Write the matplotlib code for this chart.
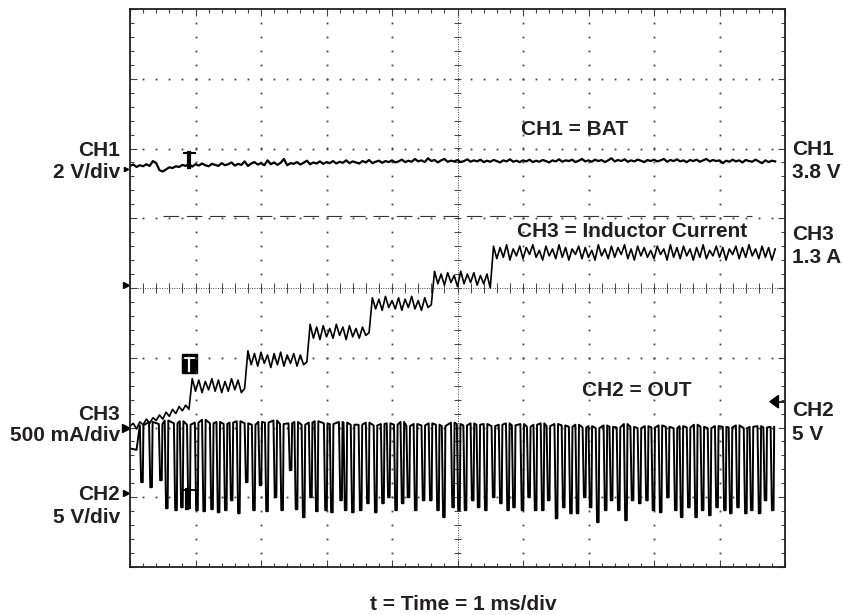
"""
Scope capture: battery, output and inductor current at boost start-up.
"""

import numpy as np
import matplotlib
matplotlib.use("Agg")
import matplotlib.pyplot as plt
from matplotlib.patches import Rectangle, Polygon

W, H = 843, 615
INK = "#231f20"

# channel settings: units per division and ground position (divisions from centre)
ch1_scale, ch1_ground = 2.0, 0.0    # V/div
ch2_scale, ch2_ground = 5.0, -3.0   # V/div
ch3_scale, ch3_ground = 0.5, -2.0   # A/div
dt = 0.05                           # ms between record samples

# CH1 = BAT (V), one sample every dt
ch1_bat = [
    3.50, 3.54, 3.47, 3.52, 3.49, 3.55, 3.50, 3.64, 3.58, 3.38,
    3.34, 3.40, 3.46, 3.44, 3.49, 3.47, 3.53, 3.50, 3.56, 3.48,
    3.55, 3.51, 3.57, 3.52, 3.49, 3.56, 3.53, 3.50, 3.58, 3.52,
    3.55, 3.60, 3.51, 3.56, 3.53, 3.63, 3.50, 3.57, 3.61, 3.54,
    3.58, 3.52, 3.66, 3.55, 3.60, 3.53, 3.59, 3.70, 3.52, 3.58,
    3.56, 3.61, 3.54, 3.59, 3.65, 3.55, 3.60, 3.57, 3.63, 3.56,
    3.61, 3.58, 3.64, 3.57, 3.62, 3.59, 3.66, 3.58, 3.63, 3.60,
    3.57, 3.64, 3.60, 3.67, 3.58, 3.62, 3.65, 3.59, 3.64, 3.61,
    3.66, 3.60, 3.63, 3.68, 3.61, 3.65, 3.62, 3.70, 3.63, 3.66,
    3.61, 3.72, 3.64, 3.67, 3.60, 3.66, 3.70, 3.62, 3.65, 3.63,
    3.67, 3.61, 3.64, 3.69, 3.62, 3.66, 3.63, 3.68, 3.61, 3.65,
    3.62, 3.67, 3.64, 3.60, 3.66, 3.63, 3.69, 3.62, 3.65, 3.61,
    3.66, 3.63, 3.68, 3.61, 3.65, 3.62, 3.67, 3.64, 3.60, 3.66,
    3.63, 3.69, 3.62, 3.66, 3.64, 3.68, 3.61, 3.65, 3.70, 3.63,
    3.66, 3.62, 3.68, 3.64, 3.67, 3.61, 3.66, 3.72, 3.63, 3.67,
    3.64, 3.69, 3.62, 3.66, 3.63, 3.68, 3.65, 3.61, 3.67, 3.64,
    3.68, 3.63, 3.66, 3.70, 3.62, 3.67, 3.64, 3.69, 3.63, 3.66,
    3.61, 3.67, 3.64, 3.68, 3.62, 3.66, 3.70, 3.63, 3.67, 3.64,
    3.66, 3.58, 3.65, 3.62, 3.68, 3.63, 3.66, 3.60, 3.67, 3.64,
    3.62, 3.68, 3.63, 3.58, 3.66, 3.61, 3.65, 3.63,
]

# CH3 = inductor current (A), one sample every dt
ch3_il = [
    # before the first step
    0.01, 0.03, -0.01, 0.04, 0.02, 0.06, 0.03, 0.07, 0.05, 0.09,
    0.06, 0.11, 0.08, 0.13, 0.10, 0.15, 0.12, 0.16, 0.13,
    # step 1
    0.35, 0.26, 0.34, 0.25, 0.33, 0.27, 0.35, 0.26, 0.34, 0.25,
    0.33, 0.26, 0.35, 0.27, 0.34, 0.25, 0.28,
    # step 2
    0.55, 0.45, 0.53, 0.44, 0.54, 0.46, 0.52, 0.43, 0.53, 0.45,
    0.54, 0.44, 0.52, 0.46, 0.53, 0.44, 0.52, 0.45, 0.47,
    # step 3
    0.74, 0.64, 0.72, 0.63, 0.73, 0.65, 0.71, 0.64, 0.74, 0.66,
    0.72, 0.63, 0.73, 0.65, 0.71, 0.64, 0.72, 0.66, 0.68,
    # step 4
    0.93, 0.85, 0.92, 0.84, 0.94, 0.86, 0.91, 0.85, 0.93, 0.84,
    0.92, 0.86, 0.94, 0.85, 0.91, 0.84, 0.93, 0.86, 0.88,
    # step 5
    1.12, 1.03, 1.10, 1.02, 1.11, 1.04, 1.09, 1.01, 1.12, 1.03,
    1.10, 1.04, 1.11, 1.02, 1.09, 1.03, 1.10, 1.00,
    # final level
    1.30, 1.21, 1.29, 1.22, 1.31, 1.20, 1.28, 1.23, 1.30, 1.21,
    1.29, 1.24, 1.31, 1.22, 1.27, 1.20, 1.30, 1.23, 1.28, 1.21,
    1.31, 1.22, 1.29, 1.20, 1.28, 1.24, 1.30, 1.21, 1.29, 1.22,
    1.27, 1.20, 1.31, 1.23, 1.28, 1.21, 1.30, 1.22, 1.29, 1.24,
    1.31, 1.21, 1.28, 1.20, 1.30, 1.23, 1.29, 1.22, 1.27, 1.21,
    1.30, 1.24, 1.28, 1.20, 1.31, 1.22, 1.29, 1.21, 1.30, 1.23,
    1.28, 1.20, 1.29, 1.22, 1.31, 1.21, 1.27, 1.23, 1.30, 1.22,
    1.29, 1.20, 1.28, 1.24, 1.30, 1.21, 1.29, 1.22, 1.31, 1.23,
    1.28, 1.21, 1.30, 1.22, 1.29, 1.20, 1.28,
]

# CH2 = OUT: switching dips (ms), dip minimum (V) and level before each dip (V)
ch2_start = [3.5, 3.4]
ch2_dip_t = [
    0.17, 0.31, 0.46, 0.55, 0.69, 0.78, 0.89, 1.01, 1.12, 1.24,
    1.34, 1.45, 1.54, 1.65, 1.77, 1.88, 1.98, 2.08, 2.21, 2.31,
    2.44, 2.53, 2.64, 2.75, 2.84, 2.98, 3.07, 3.21, 3.28, 3.39,
    3.51, 3.62, 3.74, 3.85, 3.94, 4.05, 4.15, 4.24, 4.35, 4.47,
    4.58, 4.69, 4.78, 4.92, 5.01, 5.11, 5.22, 5.31, 5.42, 5.54,
    5.65, 5.76, 5.85, 5.98, 6.08, 6.18, 6.29, 6.38, 6.50, 6.61,
    6.72, 6.82, 6.93, 7.02, 7.13, 7.25, 7.34, 7.45, 7.56, 7.66,
    7.77, 7.88, 7.98, 8.09, 8.20, 8.32, 8.41, 8.52, 8.63, 8.73,
    8.84, 8.95, 9.07, 9.16, 9.27, 9.39, 9.48, 9.60, 9.69, 9.80,
]
ch2_dip_low = [
    1.08, 0.72, 1.22, -0.79, -0.93, -0.72, -0.79, -0.93, -1.00, -0.86,
    -1.08, -0.93, -0.22, -1.15, 1.08, -0.93, 0.86, -1.00, 0.00, -0.93,
    1.94, -0.86, -1.43, 0.00, -1.00, -0.93, -1.08, -0.22, -0.93, -1.08,
    -0.93, -0.43, -1.08, -0.43, 0.00, -0.93, -0.43, 0.00, -0.93, -0.22,
    -0.22, -0.93, -1.43, -0.72, -0.93, -0.93, -0.22, -0.72, -0.93, 0.00,
    -0.43, -0.93, -0.72, -0.93, 0.00, -0.93, -0.93, -0.22, -1.51, -0.72,
    -1.15, -1.15, 0.00, -0.72, -1.79, -0.93, -0.22, -0.93, -1.65, -0.22,
    -0.43, -0.22, -0.93, -1.08, 0.00, -0.93, -1.43, -0.72, -1.43, -0.93,
    -1.29, -0.72, -0.93, -1.15, -0.72, -1.15, -0.93, -1.15, -0.22, -0.93,
]
ch2_top = [
    5.15, 5.40, 5.25, 5.50, 5.30, 5.45, 5.20, 5.35, 5.55, 5.30,
    5.40, 5.25, 5.35, 5.45, 5.30, 5.20, 5.40, 5.35, 5.50, 5.25,
    5.30, 5.40, 5.20, 5.35, 5.45, 5.30, 5.25, 5.40, 5.35, 5.20,
    5.20, 5.35, 5.15, 5.25, 5.30, 5.20, 5.40, 5.10, 5.25, 5.15,
    5.30, 5.20, 5.10, 5.35, 5.25, 5.15, 5.30, 5.20, 5.25, 5.10,
    5.20, 5.30, 5.15, 5.25, 5.05, 5.20, 5.30, 5.10, 5.25, 5.15,
    5.05, 5.20, 5.00, 5.10, 4.95, 5.15, 5.05, 5.00, 5.25, 5.05,
    4.95, 5.10, 5.00, 5.15, 5.05, 4.95, 5.10, 5.00, 5.20, 5.05,
    4.95, 5.10, 5.05, 5.00, 5.15, 4.95, 5.05, 5.10, 5.00, 5.05,
]

trigger_t = 0.90        # ms
trigger_level = 1.03    # divisions (dashed marker)
ch2_trig_mark = -1.63   # divisions (arrow on the right)


def to_div(values, scale, ground):
    return np.asarray(values) / scale + ground


plt.rcParams["font.family"] = ["Liberation Sans", "DejaVu Sans"]
fig = plt.figure(figsize=(W / 100, H / 100), dpi=100)
ax = fig.add_axes([130 / W, 1 - 567 / H, 655 / W, 558 / H])
ax.set_xlim(0, 10)
ax.set_ylim(-4, 4)

# graticule
for s in ax.spines.values():
    s.set_linewidth(1.3)
    s.set_color(INK)
ax.set_xticks(np.arange(0, 10.01, 1))
ax.set_yticks(np.arange(-4, 4.01, 1))
ax.set_xticks(np.arange(0, 10.01, 0.2), minor=True)
ax.set_yticks(np.arange(-4, 4.01, 0.2), minor=True)
ax.tick_params(which="both", direction="in", top=True, right=True,
               labelbottom=False, labelleft=False, color="#444444")
ax.tick_params(which="major", length=5, width=0.8)
ax.tick_params(which="minor", length=3, width=0.8)

fine = np.arange(0.2, 9.9, 0.2)
fine_y = np.arange(-3.8, 3.9, 0.2)
for k in range(1, 10):
    if k != 5:
        ax.plot(np.full(fine_y.size, k), fine_y, ls="none", marker="s",
                ms=1.3, mew=0, color="#444444")
for j in range(-3, 4):
    if j != 0:
        ax.plot(fine, np.full(fine.size, j), ls="none", marker="s",
                ms=1.3, mew=0, color="#444444")
# centre cross with small ticks
ax.plot([5, 5], [-4, 4], ls=(0, (1, 1.5)), lw=0.7, color="#444444")
ax.plot([0, 10], [0, 0], ls=(0, (1, 1.5)), lw=0.7, color="#444444")
ax.hlines(np.arange(-3.8, 3.9, 0.2), 4.94, 5.06, lw=0.7, color="#444444")
ax.vlines(np.arange(0.2, 9.9, 0.2), -0.07, 0.07, lw=0.7, color="#444444")

# trigger level marker
ax.plot([0.50, 9.50], [trigger_level] * 2, color="#333333", lw=0.8,
        dashes=(14, 7))

# CH1 and CH3 records
t_rec = np.arange(len(ch1_bat)) * dt
ax.plot(t_rec, to_div(ch1_bat, ch1_scale, ch1_ground), color="black", lw=1.6)
ax.plot(t_rec, to_div(ch3_il, ch3_scale, ch3_ground), color="black", lw=1.2)

# CH2 built from the dips
t2 = [0.0, 0.10]
v2 = list(ch2_start)
for ts, lo, top in zip(ch2_dip_t, ch2_dip_low, ch2_top):
    t2 += [ts - 0.02, ts, ts + 0.025, ts + 0.035]
    v2 += [top, lo, lo, top]
ax.plot(t2, to_div(v2, ch2_scale, ch2_ground), color="black", lw=1.4)

# trigger point markers
ax.plot([trigger_t - 0.08, trigger_t + 0.09], [1.94, 1.94], color="black", lw=1.5)
ax.plot([trigger_t, trigger_t], [1.94, 1.73], color="black", lw=3)
ax.add_patch(Rectangle((trigger_t - 0.11, -1.22), 0.24, 0.27, color="black"))
ax.plot([trigger_t - 0.06, trigger_t + 0.07], [-1.01, -1.01], color="white", lw=1.3)
ax.plot([trigger_t + 0.005, trigger_t + 0.005], [-1.01, -1.19], color="white", lw=1.6)
ax.plot([trigger_t - 0.09, trigger_t + 0.11], [-2.90, -2.90], color="black", lw=1.3)
ax.plot([trigger_t - 0.03, trigger_t - 0.03], [-2.90, -3.15], color="black", lw=3)

# ground markers on the left, trigger arrow on the right
for gy, size in [(1.71, 3), (0.04, 4), (ch3_ground, 6), (-2.94, 4)]:
    ax.plot(-0.06, gy, marker=">", ms=size, color="black", clip_on=False)
ax.add_patch(Polygon([(9.77, ch2_trig_mark), (9.90, ch2_trig_mark + 0.09),
                      (9.90, ch2_trig_mark - 0.09)], closed=True,
                     color="black", clip_on=False))
ax.plot([9.88, 10.0], [ch2_trig_mark] * 2, color="black", lw=1.2)

# labels
def label(x, y, s, ha="left"):
    fig.text(x / W, 1 - y / H, s, ha=ha, va="baseline", fontsize=15,
             fontweight="bold", color=INK)

label(120, 156, "CH1", "right")
label(120, 178, "2 V/div", "right")
label(120, 420, "CH3", "right")
label(120, 441, "500 mA/div", "right")
label(120, 500, "CH2", "right")
label(120, 523, "5 V/div", "right")
label(792, 155, "CH1")
label(792, 178, "3.8 V")
label(792, 240, "CH3")
label(792, 263, "1.3 A")
label(792, 416, "CH2")
label(792, 440, "5 V")
label(575, 135, "CH1 = BAT", "center")
label(517, 237, "CH3 = Inductor Current")
label(637, 396, "CH2 = OUT", "center")
label(463, 610, "t = Time = 1 ms/div", "center")

fig.savefig("out.png", dpi=100)
